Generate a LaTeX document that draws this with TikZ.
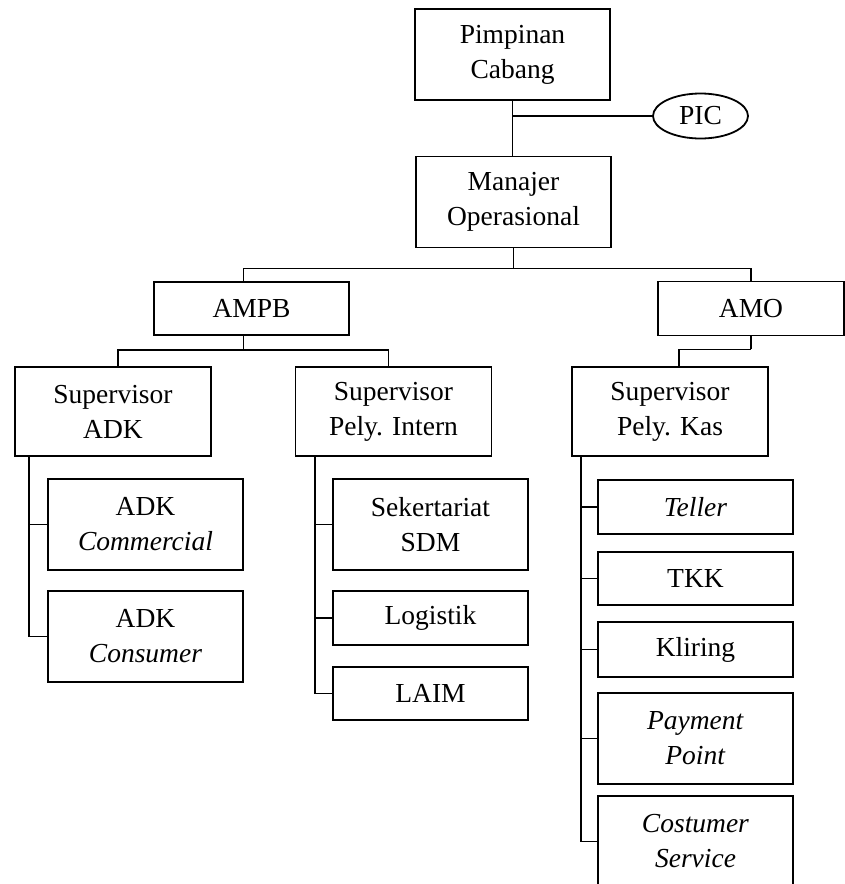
\documentclass[tikz,border=0pt]{standalone}
\usepackage{fontspec}
\setmainfont{Liberation Serif}
\usetikzlibrary{shapes.geometric}

\begin{document}
\begin{tikzpicture}[x=1pt,y=-1pt,
  unit/.style={draw=black, line width=1.8pt, fill=white, inner sep=0pt, align=center,
    minimum width=195pt, font=\fontsize{27.5}{35}\selectfont},
  tall/.style={unit, minimum height=91pt},
  flat/.style={unit, minimum height=54pt},
  link/.style={draw=black, line width=1.8pt}]
\useasboundingbox (0,0) rectangle (845,884);
\node[tall] (pc) at (512.5,54.5) {Pimpinan\\Cabang};
\node[draw=black, line width=1.8pt, ellipse, minimum width=95pt, minimum height=45pt, inner sep=0pt,
  font=\fontsize{27.5}{35}\selectfont] (pic) at (700.5,116) {PIC};
\node[tall] (mo) at (513.5,202) {Manajer\\Operasional};
\node[flat, minimum height=53pt] (ampb) at (251.5,308.5) {AMPB};
\node[flat, minimum width=186pt] (amo) at (751,308.5) {AMO};
\node[tall, minimum width=196pt, minimum height=89pt] (sadk) at (113,411.5) {Supervisor\\ADK};
\node[tall, minimum width=196pt, minimum height=89pt] (sint) at (393.5,411.5) {Supervisor\\Pely. Intern};
\node[tall, minimum width=196pt, minimum height=89pt] (skas) at (670,411.5) {Supervisor\\Pely. Kas};
\node[tall] (adkcom) at (145.5,524.5) {ADK\\\textit{Commercial}};
\node[tall] (adkcon) at (145.5,636.5) {ADK\\\textit{Consumer}};
\node[tall] (sdm) at (430.5,524.5) {Sekertariat\\SDM};
\node[flat] (logistik) at (430.5,618) {Logistik};
\node[flat, minimum height=53pt] (laim) at (430.5,693.5) {LAIM};
\node[flat] (teller) at (695.5,507) {\textit{Teller}};
\node[flat, minimum height=53pt] (tkk) at (695.5,578.5) {TKK};
\node[flat, minimum height=55pt] (kliring) at (695.5,649.5) {Kliring};
\node[tall] (pay) at (695.5,738.5) {\textit{Payment}\\\textit{Point}};
\node[tall] (cs) at (695.5,841.5) {\textit{Costumer}\\\textit{Service}};
\draw[link] (pc.south) -- (pc.south |- mo.north);
\draw[link] (pc.south |- pic.west) -- (pic.west);
\draw[link] (mo.south) -- ++(0,20) coordinate (hub);
\draw[link] ([xshift=-8pt]ampb.north) |- (hub) -| (amo.north);
\draw[link] ([xshift=-8pt]ampb.south) -- ++(0,14) coordinate (hubb);
\draw[link] ([xshift=5pt]sadk.north) |- (hubb) -| ([xshift=-5pt]sint.north);
\draw[link] (amo.south) -- ++(0,13) coordinate (hubk);
\draw[link] (hubk) -| ([xshift=9pt]skas.north);
\draw[link] ([xshift=15pt]sadk.south west) coordinate (sa) |- (adkcon.west);
\draw[link] (adkcom.west) -- (adkcom.west -| sa);
\draw[link] ([xshift=20pt]sint.south west) coordinate (si) |- (laim.west);
\draw[link] (sdm.west) -- (sdm.west -| si);
\draw[link] (logistik.west) -- (logistik.west -| si);
\draw[link] ([xshift=10pt]skas.south west) coordinate (sk) |- (cs.west);
\foreach \n in {teller,tkk,kliring,pay}
  \draw[link] (\n.west) -- (\n.west -| sk);
\end{tikzpicture}
\end{document}
